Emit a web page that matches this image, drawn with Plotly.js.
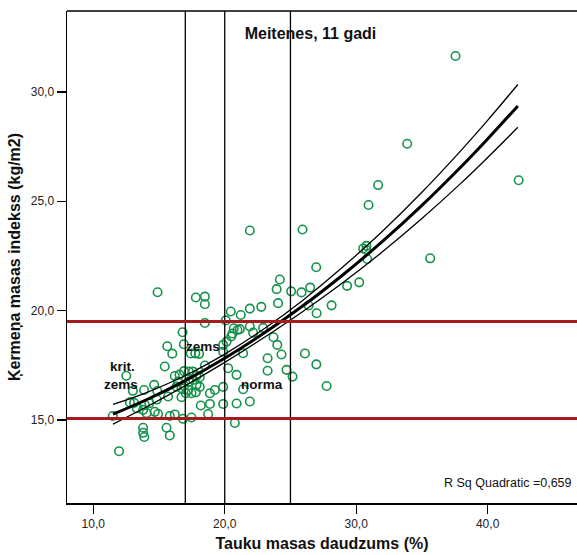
<!DOCTYPE html>
<html>
<head>
<meta charset="utf-8">
<script src="https://cdn.plot.ly/plotly-3.0.1.min.js"></script>
<style>html,body{margin:0;padding:0;background:#fff;}#chart{width:577px;height:555px;}</style>
</head>
<body>
<div id="chart"></div>
<script>
// Body fat (%) and BMI (kg/m2), girls aged 11
const fatPct = [37.56,33.88,31.67,42.36,30.94,21.91,25.92,26.96,30.53,30.78,30.78,30.84,35.63,30.23,29.31,28.13,26.99,26.50,25.84,25.05,26.38,26.10,26.97,25.16,27.75,24.19,23.95,24.06,14.89,17.80,18.49,18.49,22.78,21.91,21.22,20.46,18.49,20.08,20.69,20.97,21.15,20.59,20.50,21.91,22.16,22.92,23.71,24.00,24.32,23.26,23.26,24.70,20.14,19.88,21.40,20.26,20.90,21.40,21.91,20.90,19.88,20.77,18.74,18.87,18.18,18.87,19.25,19.88,18.10,17.80,17.47,18.49,18.05,19.88,16.79,15.63,16.01,16.89,15.44,12.51,13.01,13.86,14.63,14.87,16.20,16.56,16.90,17.28,17.59,17.85,16.45,16.91,17.27,17.59,18.10,16.71,17.85,15.69,16.33,16.71,17.04,17.21,12.78,13.10,13.31,13.79,13.92,14.26,14.83,11.48,14.05,14.68,14.93,15.82,16.20,16.83,17.47,13.79,13.79,13.88,15.57,15.82,11.96,17.42,17.76];
const bmi = [31.64,27.63,25.74,25.96,24.83,23.66,23.71,21.98,22.84,22.96,22.77,22.36,22.39,21.29,21.13,20.24,19.88,21.05,20.83,20.88,20.23,18.04,17.54,16.98,16.55,21.42,20.98,20.34,20.84,20.60,20.64,20.29,20.17,20.09,19.80,19.96,19.43,19.55,19.19,19.11,19.15,18.95,18.82,19.27,18.99,19.21,18.78,18.43,17.99,17.82,17.25,17.29,18.58,18.43,18.05,17.36,17.06,16.40,15.84,15.75,15.73,14.86,15.27,15.73,15.66,16.22,16.37,16.51,16.51,16.26,16.22,17.49,18.02,18.12,19.01,18.37,18.03,18.46,17.44,17.02,16.33,16.37,16.60,16.32,17.01,17.07,17.23,17.21,17.21,17.01,16.75,16.55,16.75,16.83,16.95,16.04,16.60,16.07,16.52,16.45,16.22,16.37,15.80,15.78,15.53,15.46,15.69,15.76,15.93,15.18,15.31,15.37,15.27,15.18,15.25,15.05,15.11,14.64,14.41,14.22,14.64,14.29,13.57,18.04,18.04];

// Quadratic fit line and its confidence band
const fitX     = [11.5, 14, 17, 20, 23, 26, 29, 32, 35, 38, 40, 42.3];
const fitY     = [15.26, 15.91, 16.80, 17.82, 18.97, 20.24, 21.64, 23.16, 24.81, 26.59, 27.85, 29.36];
const fitUpper = [15.71, 16.24, 17.03, 18.01, 19.17, 20.50, 22.00, 23.63, 25.41, 27.34, 28.70, 30.34];
const fitLower = [14.81, 15.58, 16.57, 17.63, 18.77, 19.98, 21.28, 22.69, 24.21, 25.84, 27.00, 28.38];

// Reference lines
const fatCutoffs = [17, 20, 25];
const bmiCutoffs = [15.07, 19.5];

// Ticks
const xTickVals = [10, 20, 30, 40];
const xTickText = ["10,0", "20,0", "30,0", "40,0"];
const yTickVals = [15, 20, 25, 30];
const yTickText = ["15,0", "20,0", "25,0", "30,0"];

// Zone labels
const zoneText = ["krit.", "zems", "zems", "norma"];
const zoneX = [12.25, 12.09, 18.31, 22.80];
const zoneY = [17.42, 16.60, 18.38, 16.60];

const FONT = "Arial, 'Liberation Sans', sans-serif";

const traces = [
  {x: fatPct, y: bmi, type: "scatter", mode: "markers",
   marker: {symbol: "circle-open", size: 8.5, color: "#14924a", line: {width: 1.6, color: "#14924a"}},
   hoverinfo: "skip"},
  {x: fitX, y: fitUpper, type: "scatter", mode: "lines", line: {color: "#000", width: 1.3, shape: "spline"}, hoverinfo: "skip"},
  {x: fitX, y: fitLower, type: "scatter", mode: "lines", line: {color: "#000", width: 1.3, shape: "spline"}, hoverinfo: "skip"},
  {x: fitX, y: fitY, type: "scatter", mode: "lines", line: {color: "#000", width: 3, shape: "spline"}, hoverinfo: "skip"}
];

const shapes = [];
fatCutoffs.forEach(v => shapes.push({type: "line", xref: "x", yref: "paper", x0: v, x1: v, y0: 0, y1: 1, line: {color: "#000", width: 1.3}}));
bmiCutoffs.forEach(v => shapes.push({type: "line", xref: "paper", yref: "y", x0: 0, x1: 1, y0: v, y1: v, line: {color: "#a61c1c", width: 3}}));
shapes.push({type: "line", xref: "paper", yref: "paper", x0: 0, x1: 1, y0: 1, y1: 1, line: {color: "#000", width: 1.5}});

const annotations = zoneText.map((t, i) => ({
  text: "<b>" + t + "</b>", x: zoneX[i], y: zoneY[i], xref: "x", yref: "y",
  showarrow: false, font: {family: FONT, size: 13.5, color: "#111"}, xanchor: "center", yanchor: "middle"
}));
annotations.push({text: "R Sq Quadratic =0,659", xref: "paper", yref: "paper", x: 0.994, y: 0.041,
  xanchor: "right", yanchor: "middle", showarrow: false, font: {family: FONT, size: 12.5, color: "#111"}});

const layout = {
  width: 577, height: 555,
  margin: {l: 67, r: 0, t: 11, b: 52},
  paper_bgcolor: "#fff", plot_bgcolor: "#fff",
  showlegend: false,
  title: {text: "<b>Meitenes, 11 gadi</b>", x: 310.5/577, xanchor: "center", xref: "container",
          y: 1 - 33/555, yanchor: "middle", yref: "container", font: {family: FONT, size: 16, color: "#111"}},
  xaxis: {range: [8.0, 46.8], showgrid: false, zeroline: false, showline: true, linecolor: "#000", linewidth: 1.5,
          ticks: "outside", ticklen: 9, tickwidth: 1.3, tickcolor: "#000",
          tickvals: xTickVals, ticktext: xTickText, tickfont: {family: FONT, size: 12, color: "#222"},
          title: {text: "<b>Tauku masas daudzums (%)</b>", font: {family: FONT, size: 16, color: "#111"}, standoff: 8}},
  yaxis: {range: [11.2, 33.7], showgrid: false, zeroline: false, showline: true, linecolor: "#000", linewidth: 1.5,
          ticks: "outside", ticklen: 9, tickwidth: 1.3, tickcolor: "#000",
          tickvals: yTickVals, ticktext: yTickText, tickfont: {family: FONT, size: 12, color: "#222"},
          title: {text: "<b>Ķermeņa masas indekss (kg/m2)</b>", font: {family: FONT, size: 16, color: "#111"}, standoff: 6}},
  shapes: shapes,
  annotations: annotations
};

Plotly.newPlot("chart", traces, layout, {staticPlot: true, displayModeBar: false});
</script>
</body>
</html>
